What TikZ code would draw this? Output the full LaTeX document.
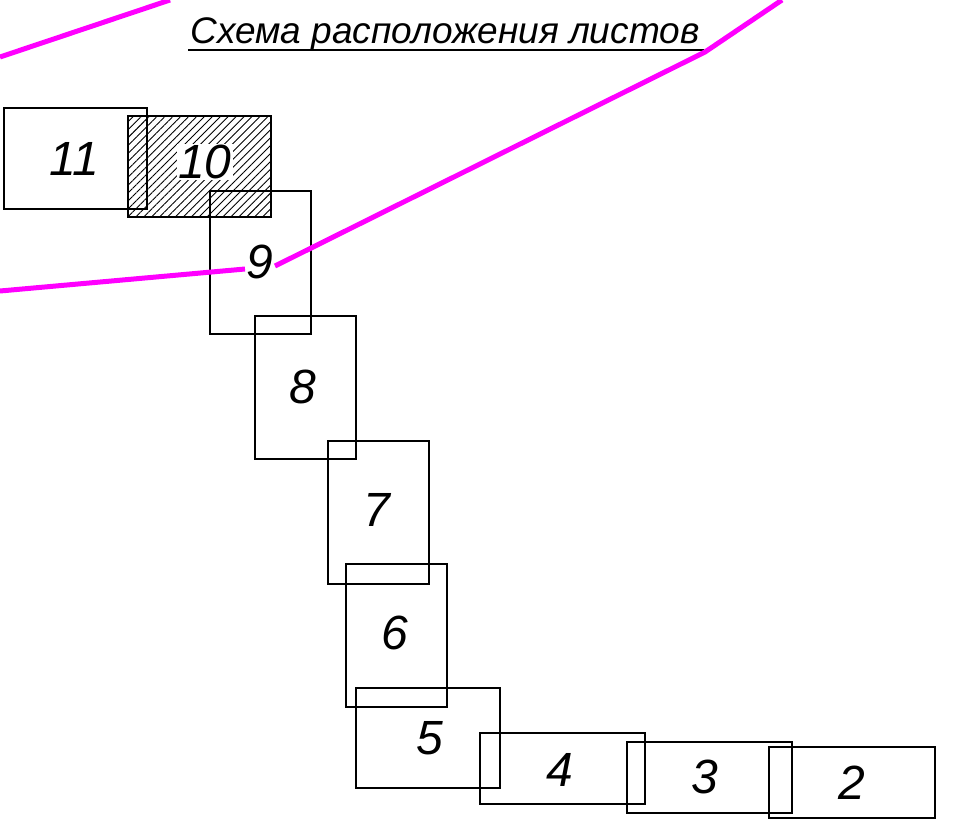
\documentclass[tikz,border=0pt]{standalone}
\usepackage{fontspec}
\setmainfont{Liberation Sans}
\usetikzlibrary{patterns.meta}
\definecolor{mag}{RGB}{255,0,255}
\begin{document}
\begin{tikzpicture}[x=1pt,y=-1pt,
  sheet/.style={draw=black,line width=1.3pt},
  num/.style={font=\fontsize{48}{48}\selectfont\itshape,inner sep=0pt},
  route/.style={draw=mag,line width=5pt}]
\useasboundingbox (0,0) rectangle (962,820);
% sheets
\path[sheet,pattern={Lines[angle=45,distance=5.6pt,line width=0.9pt]}] (128,116) rectangle (271,217);
\path[sheet] (4,108) rectangle (147,209);
\path[sheet] (210,191) rectangle (311,334);
\path[sheet] (255,316) rectangle (356,459);
\path[sheet] (328,441) rectangle (429,584);
\path[sheet] (346,564) rectangle (447,707);
\path[sheet] (356,688) rectangle (500,788);
\path[sheet] (480,733) rectangle (645,804);
\path[sheet] (627,742) rectangle (792,813);
\path[sheet] (769,747) rectangle (935,818);
% labels
\node[num] (n11) at (74,159) {11};
\node[num,fill=white,inner sep=1pt] (n10) at (205,162) {10};
\node[num] (n9) at (260,262) {9};
\node[num] (n8) at (303,387) {8};
\node[num] (n7) at (377,510) {7};
\node[num] (n6) at (395,633) {6};
\node[num] (n5) at (430,738) {5};
\node[num] (n4) at (560,770) {4};
\node[num] (n3) at (705,777) {3};
\node[num] (n2) at (852,783) {2};
% title
\node[font=\fontsize{37}{37}\selectfont\itshape,inner sep=0pt,anchor=base] (title) at (445,43) {Схема расположения листов};
\draw[line width=1.7pt] ([shift={(-2,7)}]title.base west) -- ([shift={(4,7)}]title.base east);
% magenta route
\coordinate (a1) at (0,57);
\coordinate (a2) at (170,0);
\coordinate (b1) at (782,0);
\coordinate (b2) at (705,52);
\coordinate (b3) at (275,266);
\coordinate (c1) at (245,269);
\coordinate (c2) at (0,291);
\draw[route] (a1) -- (a2);
\draw[route] (b1) -- (b2) -- (b3);
\draw[route] (c1) -- (c2);
\end{tikzpicture}
\end{document}
